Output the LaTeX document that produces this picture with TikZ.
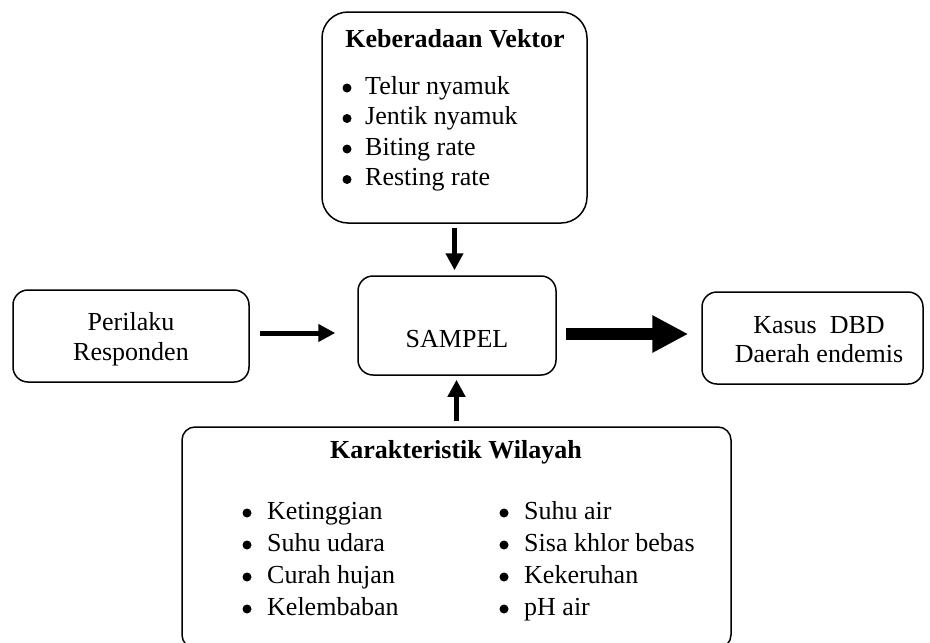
\documentclass[tikz,border=0pt]{standalone}
\usepackage{fontspec}
\setmainfont{Liberation Serif}
\usetikzlibrary{arrows.meta}

\begin{document}
\begin{tikzpicture}
            [every node/.style={inner sep=0pt},
             font=\fontsize{26}{30}\selectfont,
             box/.style={draw=black, line width=1.5pt, rounded corners=15pt},
             line/.style={anchor=base},
             item/.style={anchor=base west},
             thinarrow/.style={line width=5pt, -{Triangle[length=17pt, width=17pt]}},
             thickarrow/.style={line width=12pt, -{Triangle[length=36pt, width=35pt]}}]
                \clip (0pt, 0pt) rectangle (930pt, -643pt);
                \node (vektor) [box, rounded corners=26pt, minimum width=265pt, minimum height=211pt] at (454.5pt, -117.5pt) {};
                \node (sampel) [box, minimum width=198pt, minimum height=99pt] at (457pt, -325.5pt) {};
                \node (perilaku) [box, minimum width=236pt, minimum height=92pt] at (131pt, -336pt) {};
                \node (kasus) [box, minimum width=221pt, minimum height=92pt] at (812.5pt, -338pt) {};
                \node (wilayah) [box, rounded corners=13pt, minimum width=549pt, minimum height=221pt] at (456.5pt, -537.5pt) {};
                % texts
                \node (vektortitle) [line] at (455pt, -47pt) {\bfseries Keberadaan Vektor};
                \node (sampeltext) [line] at (457pt, -347pt) {SAMPEL};
                \node (perilaku1) [line] at (131pt, -330pt) {Perilaku};
                \node (perilaku2) [line] at (131pt, -360pt) {Responden};
                \node (kasus1) [line] at (819pt, -333pt) {Kasus\ \ DBD};
                \node (kasus2) [line] at (819pt, -362pt) {Daerah endemis};
                \node (wilayahtitle) [line] at (456pt, -458pt) {\bfseries Karakteristik Wilayah};
                % bullet lists
                \foreach \t [count=\i from 0] in {Telur nyamuk, Jentik nyamuk, Biting rate, Resting rate} {
                    \fill (347pt, {-88pt-30.5pt*\i}) circle (4.5pt);
                    \node (v\i) [item] at (365pt, {-94pt-30.5pt*\i}) {\t};
                }
                \foreach \t [count=\i from 0] in {Ketinggian, Suhu udara, Curah hujan, Kelembaban} {
                    \fill (247pt, {-513pt-32pt*\i}) circle (4.5pt);
                    \node (wa\i) [item] at (267pt, {-519pt-32pt*\i}) {\t};
                }
                \foreach \t [count=\i from 0] in {Suhu air, Sisa khlor bebas, Kekeruhan, pH air} {
                    \fill (504pt, {-513pt-32pt*\i}) circle (4.5pt);
                    \node (wb\i) [item] at (524pt, {-519pt-32pt*\i}) {\t};
                }
                % arrows
                \draw [thinarrow, shorten <=4pt, shorten >=5pt] (vektor.south) to (vektor.south |- sampel.north);
                \draw [thinarrow, shorten <=5pt, shorten >=4pt] (wilayah.north) to (wilayah.north |- sampel.south);
                \draw [thinarrow, shorten <=10pt, shorten >=22pt] ([yshift=3pt]perilaku.east) to ([yshift=3pt]perilaku.east -| sampel.west);
                \draw [thickarrow, shorten <=9pt, shorten >=13pt] ([yshift=4pt]kasus.west -| sampel.east) to ([yshift=4pt]kasus.west);
            \end{tikzpicture}
\end{document}
